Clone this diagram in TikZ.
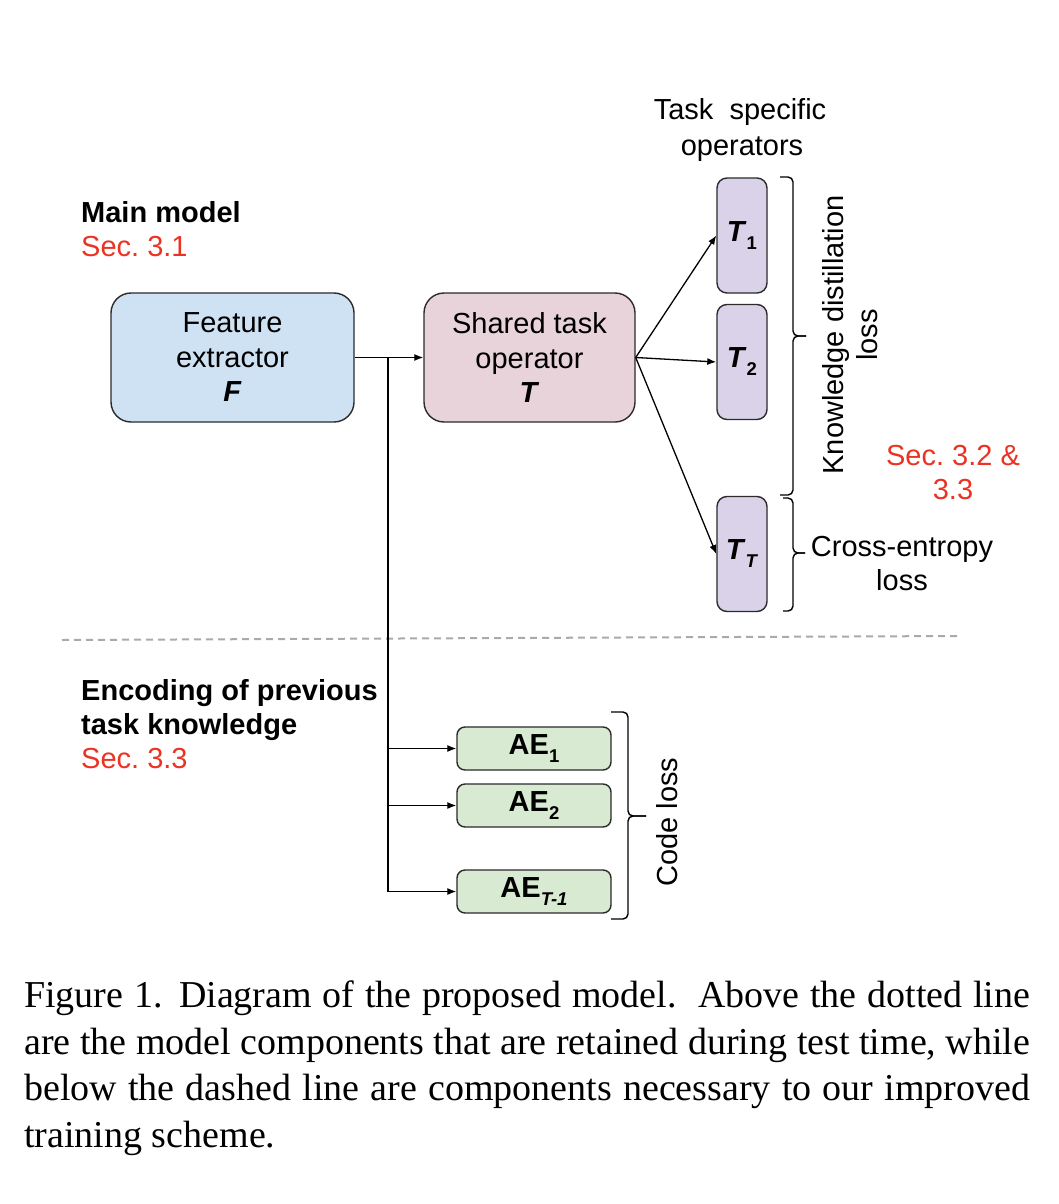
\documentclass[tikz,border=0pt]{standalone}
\usepackage{fontspec}
\setmainfont{Liberation Sans}
\newfontfamily\capserif{Liberation Serif}
\usetikzlibrary{arrows.meta}
\definecolor{featblue}{HTML}{CFE2F3}
\definecolor{sharedpink}{HTML}{E8D3DB}
\definecolor{taskpurple}{HTML}{D9D2E9}
\definecolor{aegreen}{HTML}{D9EAD3}
\definecolor{secred}{HTML}{EA3323}
\definecolor{edgec}{HTML}{2B2B2B}
\definecolor{dashc}{HTML}{AAAAAA}
\newcommand\labfont{\fontsize{29}{34.5}\selectfont\frenchspacing}
\newcommand\subfnt{\fontsize{18.5}{18.5}\selectfont}
\newcommand\lowsub[1]{\raisebox{-8pt}{\subfnt\bfseries #1}}
\begin{document}
\begin{tikzpicture}[x=1pt,y=-1pt,
  lbl/.style={font=\labfont, inner sep=0},
  box/.style={draw=edgec, line width=1.4pt, rounded corners=20pt, align=center, font=\labfont, inner sep=0},
  tbox/.style={draw=edgec, line width=1.4pt, rounded corners=10pt, fill=taskpurple, minimum width=50pt, minimum height=115pt, inner sep=0, font=\labfont},
  aebox/.style={draw=edgec, line width=1.4pt, rounded corners=8pt, fill=aegreen, minimum width=154pt, minimum height=43pt, inner sep=0, font=\labfont},
  arr/.style={-{Latex[length=9pt,width=7pt]}, line width=1.3pt},
  brc/.style={line width=1.4pt, rounded corners=5pt},
  dashline/.style={draw=dashc, line width=2pt, dash pattern=on 7pt off 5pt}]
\useasboundingbox (0,0) rectangle (1058,1204);
\fill[white] (0,0) rectangle (1058,1204);

% dashed separator
\coordinate (DL) at (62,640);
\coordinate (DR) at (960,636);
\draw[dashline] (DL) -- (DR);

% main boxes
\node[box, fill=featblue, minimum width=243pt, minimum height=129pt] (F) at (232.5,357.5) {Feature\\extractor\\\textbf{\textit{F}}};
\node[box, fill=sharedpink, minimum width=211pt, minimum height=129pt] (S) at (529.5,357.5) {Shared task\\operator\\\textbf{\textit{T}}};

% task specific operators
\node[tbox] (T1) at (742,235.5) {\textbf{\textit{T}}\lowsub{1}};
\node[tbox] (T2) at (742,362) {\textbf{\textit{T}}\lowsub{2}};
\node[tbox] (TT) at (742,554) {\textbf{\textit{T}}\lowsub{\textit{T}}};

% autoencoders
\node[aebox] (AE1) at (534,748.5) {\textbf{AE}\lowsub{1}};
\node[aebox] (AE2) at (534,805.5) {\textbf{AE}\lowsub{2}};
\node[aebox] (AE3) at (534,891.5) {\textbf{AE}\lowsub{\textit{T-1}}};

% connectors
\draw[arr] (F.east) -- (S.west);
\coordinate (J) at (388,357.5);
\draw[line width=2pt] (J) -- (J |- AE3.west);
\draw[arr] (J |- AE1.west) -- (AE1.west);
\draw[arr] (J |- AE2.west) -- (AE2.west);
\draw[arr] (J |- AE3.west) -- (AE3.west);
\draw[arr] (S.east) -- (T1.west);
\draw[arr] (S.east) -- (T2.west);
\draw[arr] (S.east) -- (TT.west);

% braces
\draw[brc] (780,177) -- (793,177) -- (793,336) -- (806,336);
\draw[brc] (780,495) -- (793,495) -- (793,336) -- (806,336);
\draw[brc] (783,498) -- (793,498) -- (793,553) -- (805,553);
\draw[brc] (783,611) -- (793,611) -- (793,553) -- (805,553);
\draw[brc] (611,712) -- (628,712) -- (628,816) -- (646,816);
\draw[brc] (611,919) -- (628,919) -- (628,816) -- (646,816);

% labels
\node[lbl, anchor=base] (tso1) at (740,120) {Task\ \ specific};
\node[lbl, anchor=base] (tso2) at (742,155) {operators};
\node[lbl, anchor=base west] (mm) at (81,222) {\textbf{Main model}};
\node[lbl, anchor=base west, text=secred] (s31) at (81,256) {Sec. 3.1};
\node[lbl, anchor=base west] (enc1) at (81,700) {\textbf{Encoding of previous}};
\node[lbl, anchor=base west] (enc2) at (81,734) {\textbf{task knowledge}};
\node[lbl, anchor=base west, text=secred] (s33) at (81,768) {Sec. 3.3};
\node[lbl, rotate=90, align=center] (kd) at (850,335) {Knowledge distillation\\loss};
\node[lbl, anchor=base, text=secred] (s32a) at (953,465) {Sec. 3.2 \&};
\node[lbl, anchor=base, text=secred] (s32b) at (953,499) {3.3};
\node[lbl, anchor=base] (ce1) at (902,556) {Cross-entropy};
\node[lbl, anchor=base] (ce2) at (902,590) {loss};
\node[lbl, rotate=90] (cl) at (667,822) {Code loss};

% caption
\node[anchor=north west, inner sep=0, text width=1006pt, align=justify, font=\capserif\fontsize{38}{46.5}\selectfont] (cap) at (24,981)
 {Figure 1. Diagram of the proposed model.\ \ Above the dotted line\linebreak are the model components that are retained during test time, while\linebreak below the dashed line are components necessary to our improved\linebreak training scheme.};
\end{tikzpicture}
\end{document}
